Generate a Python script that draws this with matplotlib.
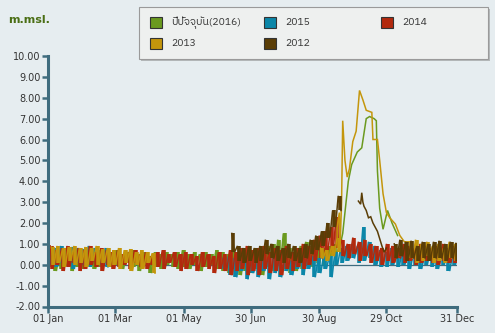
import numpy as np
import matplotlib
matplotlib.use('Agg')
import matplotlib.pyplot as plt
from matplotlib import font_manager
from matplotlib.ft2font import FT2Font
from matplotlib.patches import Rectangle

nan = float('nan')

# วันของปี (ทุก 5 วัน) สำหรับค่าน้ำขึ้น/น้ำลง
days = list(range(0, 366, 5))

series_names = ['ปีปัจจุบัน(2016)', '2015', '2014', '2013', '2012']
series_colors = ['#6b9a1f', '#0b86a8', '#b2290d', '#c4960c', '#5a3d06']

tick_days = [0, 60, 121, 181, 242, 302, 365]
tick_labels = ['01 Jan', '01 Mar', '01 May', '30 Jun', '30 Aug', '29 Oct', '31 Dec']
y_ticks = [-2, -1, 0, 1, 2, 3, 4, 5, 6, 7, 8, 9, 10]

# 2016
hi_2016 = [0.6, 0.7, 0.5, 0.8, 0.6, 0.7, 0.5, 0.7, 0.6, 0.5, 0.7, 0.6,
           0.7, 0.5, 0.6, 0.7, 0.5, 0.6, 0.4, 0.6, 0.5, 0.6, 0.5, 0.6,
           0.7, 0.5, 0.6, 0.5, 0.6, 0.5, 0.7, 0.6, 0.5, 0.6, 0.4, 0.7,
           0.5, 0.8, 0.6, 0.9, 1.0, 1.2, 1.5, 0.8, 0.6, 0.9, 1.1, 0.8,
           1.0, 0.8, 0.9, 1.0, nan, nan, nan, nan, nan, nan, nan, nan,
           nan, nan, nan, nan, nan, nan, nan, nan, nan, nan, nan, nan,
           nan, nan]
lo_2016 = [-0.1, -0.3, -0.2, 0.0, -0.3, -0.1, -0.2, 0.0, -0.2, -0.1, 0.1, -0.1,
           0.0, -0.2, 0.1, -0.1, -0.3, 0.0, -0.4, -0.1, -0.2, 0.0, -0.1, -0.2,
           -0.1, -0.2, 0.0, -0.3, -0.1, 0.0, -0.2, -0.3, -0.4, -0.2, -0.5, -0.3,
           -0.4, -0.2, -0.5, -0.1, -0.3, 0.0, -0.2, -0.4, -0.3, -0.2, 0.0, -0.1,
           0.1, 0.0, 0.2, 0.4, nan, nan, nan, nan, nan, nan, nan, nan,
           nan, nan, nan, nan, nan, nan, nan, nan, nan, nan, nan, nan,
           nan, nan]
flood_days_2016 = [258, 261, 263, 265, 268, 271, 276, 280, 284, 287, 291, 293, 294, 296, 299, 303, 307, 312]
flood_2016 = [0.6, 1.0, 1.5, 2.5, 4.0, 4.8, 5.4, 5.6, 7.0, 7.1, 7.0, 6.9, 4.5, 2.7, 1.7, 2.6, 2.0, 1.4]

# 2015
hi_2015 = [0.85, 0.8, 0.9, 0.7, 0.85, 0.8, 0.75, 0.9, 0.8, 0.7, 0.8, nan,
           nan, nan, nan, nan, nan, nan, nan, nan, nan, nan, nan, nan,
           nan, nan, nan, nan, nan, nan, nan, 0.3, 0.4, 0.3, 0.5, 0.3,
           0.4, 0.2, 0.4, 0.3, 0.5, 0.3, 0.4, 0.2, 0.5, 0.3, 0.6, 0.4,
           0.3, 0.5, 0.4, 0.6, 0.8, 0.9, 1.0, 0.9, 1.8, 1.1, 0.9, 0.7,
           0.6, 0.8, 0.5, 0.7, 0.5, 0.6, 0.4, 0.5, 0.6, 0.4, 0.5, 0.4,
           0.5, 0.4]
lo_2015 = [0.0, -0.1, 0.1, 0.0, -0.2, 0.1, 0.0, -0.1, 0.2, 0.0, -0.1, nan,
           nan, nan, nan, nan, nan, nan, nan, nan, nan, nan, nan, nan,
           nan, nan, nan, nan, nan, nan, nan, -0.2, -0.5, -0.6, -0.3, -0.7,
           -0.4, -0.6, -0.3, -0.7, -0.4, -0.6, -0.3, -0.5, -0.2, -0.5, -0.2, -0.6,
           -0.4, -0.2, -0.6, 0.0, 0.1, 0.2, 0.3, 0.1, 0.2, 0.3, 0.0, -0.1,
           -0.1, 0.0, -0.1, 0.0, -0.2, 0.0, -0.2, 0.0, -0.1, -0.2, 0.0, -0.3,
           0.0, -0.1]

# 2014
hi_2014 = [0.9, 0.7, 0.8, 0.9, 0.6, 0.8, 0.7, 0.9, 0.6, 0.8, 0.7, 0.6,
           0.7, 0.5, 0.6, 0.7, 0.5, 0.6, 0.4, 0.6, 0.7, 0.5, 0.6, 0.5,
           0.6, 0.5, 0.4, 0.6, 0.5, 0.4, 0.6, 0.5, 0.7, 0.6, 0.8, 0.9,
           0.7, 0.8, 0.9, 0.6, 0.8, 0.7, 0.9, 0.6, 0.8, 1.0, 0.9, 1.2,
           1.4, 1.6, 1.8, 2.3, 1.2, 1.0, 1.3, 1.1, 1.2, 1.0, 0.9, 0.8,
           1.0, 0.9, 0.8, 1.0, 0.9, 0.8, 1.0, 0.9, 0.8, 0.9, 1.0, 0.8,
           0.9, 0.8]
lo_2014 = [-0.2, 0.0, -0.3, -0.1, 0.1, -0.3, -0.2, 0.0, -0.1, -0.3, 0.0, -0.2,
           -0.1, 0.0, -0.2, 0.1, -0.1, -0.2, 0.0, -0.1, -0.2, 0.1, -0.1, -0.3,
           -0.2, 0.0, -0.3, -0.1, -0.2, -0.4, -0.2, -0.3, -0.5, -0.3, -0.2, -0.5,
           -0.3, -0.5, -0.2, -0.4, -0.3, -0.5, -0.2, -0.3, -0.1, -0.2, 0.0, 0.2,
           0.3, 0.4, 0.6, 0.8, 0.4, 0.3, 0.5, 0.2, 0.4, 0.1, 0.2, 0.0,
           0.2, 0.1, 0.3, 0.1, 0.2, 0.0, 0.1, 0.2, 0.1, 0.0, 0.2, 0.1,
           0.1, 0.2]

# 2013
hi_2013 = [0.85, 0.9, 0.8, 0.85, 0.9, 0.8, 0.85, 0.8, 0.9, 0.75, 0.8, 0.7,
           0.8, 0.7, 0.75, 0.6, 0.7, 0.6, 0.55, nan, nan, nan, nan, nan,
           nan, nan, nan, nan, nan, nan, nan, nan, nan, nan, nan, nan,
           nan, nan, nan, nan, nan, nan, nan, nan, nan, nan, nan, nan,
           0.8, 0.7, 0.9, 1.3, nan, nan, nan, nan, nan, nan, nan, nan,
           nan, nan, nan, nan, 1.1, 1.2, 1.0, 1.1, 0.9, 1.0, 0.8, 1.1,
           1.0, 0.9]
lo_2013 = [0.0, 0.1, -0.1, 0.2, 0.0, 0.1, -0.1, 0.2, 0.0, 0.1, -0.1, 0.0,
           -0.2, 0.1, -0.3, 0.0, -0.2, 0.1, -0.4, nan, nan, nan, nan, nan,
           nan, nan, nan, nan, nan, nan, nan, nan, nan, nan, nan, nan,
           nan, nan, nan, nan, nan, nan, nan, nan, nan, nan, nan, nan,
           0.3, 0.2, 0.4, 0.6, nan, nan, nan, nan, nan, nan, nan, nan,
           nan, nan, nan, nan, 0.3, 0.1, 0.2, 0.4, 0.1, 0.2, 0.1, 0.3,
           0.2, 0.1]
flood_days_2013 = [258, 260, 262, 263, 265, 267, 269, 272, 275, 278, 281, 284, 289, 290, 294, 296, 299, 302, 305, 310, 314, 318]
flood_2013 = [1.8, 2.5, 3.0, 6.9, 5.0, 4.2, 4.6, 5.9, 6.4, 8.35, 7.9, 7.4, 7.3, 6.0, 6.0, 5.0, 3.4, 2.5, 2.25, 1.95, 1.4, 1.1]

# 2012
hi_2012 = [nan, nan, nan, nan, nan, nan, nan, nan, nan, nan, nan, nan,
           nan, nan, nan, nan, nan, nan, nan, nan, nan, nan, nan, nan,
           nan, nan, nan, nan, nan, nan, nan, nan, 1.5, 0.9, 0.8, 0.9,
           0.8, 0.9, 1.2, 1.0, 0.9, 0.8, 1.0, 0.9, 0.8, 1.0, 1.2, 1.4,
           1.6, 2.0, 2.6, 3.3, nan, nan, nan, nan, nan, nan, nan, nan,
           nan, 1.0, 1.2, 1.1, 1.15, 0.9, 1.1, 1.0, 1.1, 1.15, 1.0, 1.1,
           1.05, 1.0]
lo_2012 = [nan, nan, nan, nan, nan, nan, nan, nan, nan, nan, nan, nan,
           nan, nan, nan, nan, nan, nan, nan, nan, nan, nan, nan, nan,
           nan, nan, nan, nan, nan, nan, nan, nan, 0.6, 0.2, 0.1, 0.2,
           0.1, 0.2, 0.5, 0.3, 0.2, 0.1, 0.3, 0.2, 0.1, 0.3, 0.5, 0.7,
           0.9, 1.3, 1.8, 2.6, nan, nan, nan, nan, nan, nan, nan, nan,
           nan, 0.3, 0.4, 0.2, 0.3, 0.2, 0.3, 0.2, 0.3, 0.3, 0.2, 0.3,
           0.2, 0.3]
flood_days_2012 = [277, 279, 280, 281, 282, 284, 286, 288, 290, 292, 294, 296, 298, 300, 302]
flood_2012 = [3.05, 2.9, 3.45, 3.0, 2.8, 2.6, 2.25, 2.3, 2.0, 1.8, 1.6, 1.25, 0.9, 0.6, 0.8]


def tide_points(hi, lo, fdays=(), flvl=(), shift=0.0):
    # น้ำขึ้นที่วัน d, น้ำลงที่ครึ่งช่วงถัดไป
    pts = []
    for d, h, l in zip(days, hi, lo):
        if not np.isnan(h):
            pts.append((d + shift, h))
            pts.append((d + shift + 2.5, l))
    pts += list(zip(fdays, flvl))
    pts.sort()
    xs, ys = [], []
    for k, (x, y) in enumerate(pts):
        if k and x - pts[k - 1][0] > 6:
            xs.append(nan)
            ys.append(nan)
        xs.append(x)
        ys.append(y)
    return xs, ys


# หาฟอนต์ที่มีอักษรไทย
thai_font = None
for f in font_manager.fontManager.ttflist:
    try:
        if 0x0E1B in FT2Font(f.fname).get_charmap():
            thai_font = f.name
            if 'Thai' in f.name:
                break
    except Exception:
        pass
fam = [thai_font, 'DejaVu Sans'] if thai_font else ['DejaVu Sans']

bg = '#e6edf0'
axis_col = '#3f6c7e'
W, H = 495, 333

fig = plt.figure(figsize=(W / 100, H / 100), dpi=100, facecolor=bg)
ax = fig.add_axes([48 / W, 1 - 306.5 / H, 409 / W, 250.5 / H], facecolor=bg)

all_series = [
    (hi_2016, lo_2016, flood_days_2016, flood_2016),
    (hi_2015, lo_2015, [], []),
    (hi_2014, lo_2014, [], []),
    (hi_2013, lo_2013, flood_days_2013, flood_2013),
    (hi_2012, lo_2012, flood_days_2012, flood_2012),
]
for i, ((hi, lo, fd, fl), c) in enumerate(zip(all_series, series_colors)):
    sh = i * 1.0
    xs, ys = tide_points(hi, lo, fd, fl, shift=sh)
    ax.plot(xs, ys, color=c, lw=1.1, solid_joinstyle='miter')
    # แท่งช่วงน้ำขึ้น-น้ำลง
    ax.vlines(np.array(days) + sh + 1.25, lo, hi, color=c, lw=2.6)

ax.axhline(0, color=axis_col, lw=0.9, zorder=0)

ax.set_xlim(0, 365)
ax.set_ylim(-2, 10)
ax.set_xticks(tick_days)
ax.set_xticklabels(tick_labels)
ax.set_yticks(y_ticks)
ax.set_yticklabels([f'{v:.2f}' for v in y_ticks])
for s in ['top', 'right']:
    ax.spines[s].set_visible(False)
for s in ['left', 'bottom']:
    ax.spines[s].set_color(axis_col)
    ax.spines[s].set_linewidth(2.2)
ax.tick_params(axis='both', length=4, width=1.8, color=axis_col,
               labelsize=7, labelcolor='#333333', pad=1.5)

fig.text(8 / W, 1 - 20 / H, 'm.msl.', fontsize=8, fontweight='bold',
         color='#4a6e14', ha='left', va='center')

# กล่องคำอธิบาย
def fx(x):
    return x / W


def fy(y):
    return 1 - y / H


fig.add_artist(Rectangle((fx(141), fy(61)), 349 / W, 52 / H, transform=fig.transFigure,
                         facecolor='#b4b8b9', edgecolor='none'))
fig.add_artist(Rectangle((fx(139), fy(59)), 349 / W, 52 / H, transform=fig.transFigure,
                         facecolor='#eef0ef', edgecolor='#9a9a9a', lw=0.8))
leg_pos = [(150, 17), (264, 17), (381, 17), (150, 38), (264, 38)]
for (px, py), name, c in zip(leg_pos, series_names, series_colors):
    fig.add_artist(Rectangle((fx(px), fy(py + 11)), 12 / W, 11 / H, transform=fig.transFigure,
                             facecolor=c, edgecolor='#333333', lw=0.8))
    fig.text(fx(px + 21), fy(py + 5.5), name, fontsize=7.5, color='#333333',
             ha='left', va='center', family=fam)

fig.savefig('out.png', dpi=100, facecolor=bg)
